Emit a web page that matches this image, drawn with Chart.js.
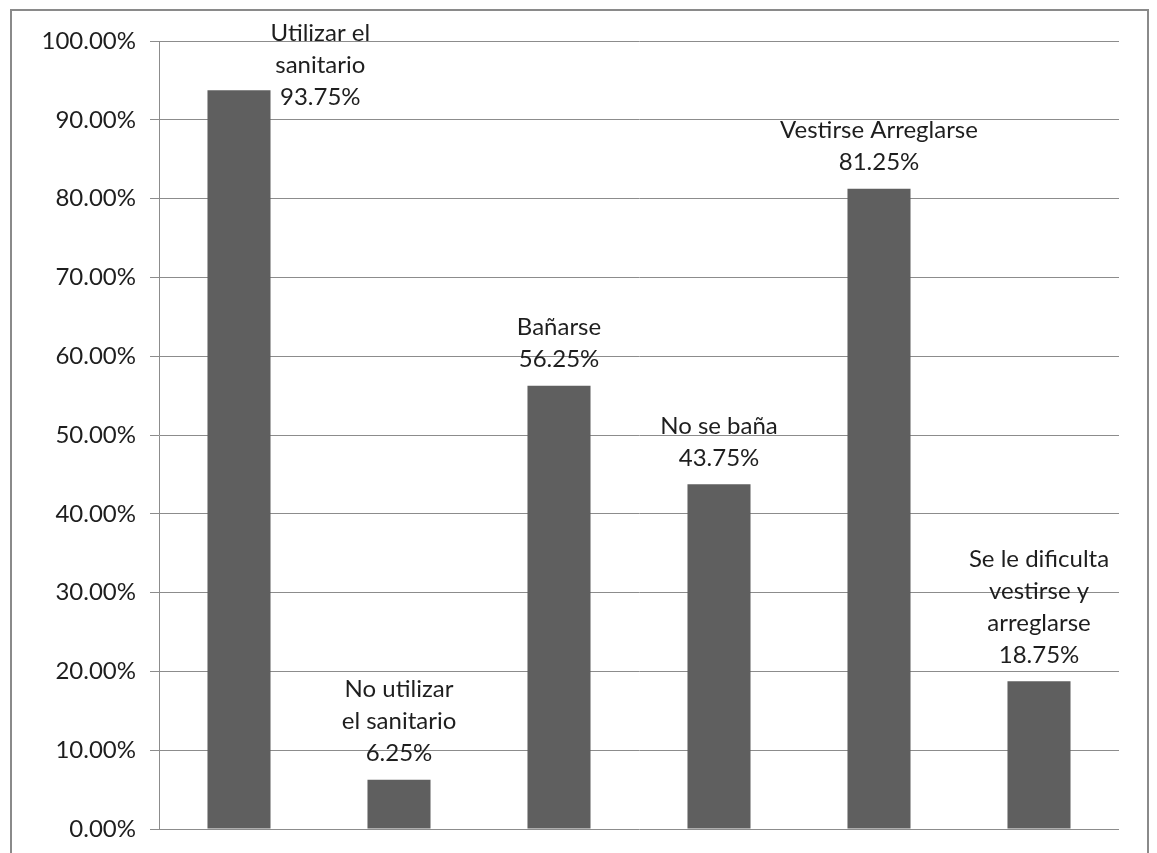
<!DOCTYPE html>
<html>
<head>
<meta charset="utf-8">
<script src="https://cdn.jsdelivr.net/npm/chart.js@4/dist/chart.umd.min.js"></script>
<style>
  html, body { margin: 0; padding: 0; background: #ffffff; }
  #wrap { position: relative; width: 1157px; height: 853px; }
</style>
</head>
<body>
<div id="wrap"><canvas id="chart" width="1157" height="853"></canvas></div>
<script>
// Activity categories (each entry split into the lines shown above its bar)
const categories = [
  ["Utilizar el", "sanitario"],
  ["No utilizar", "el sanitario"],
  ["Bañarse"],
  ["No se baña"],
  ["Vestirse Arreglarse"],
  ["Se le dificulta", "vestirse y", "arreglarse"]
];
// Share of respondents, in percent
const percentages = [93.75, 6.25, 56.25, 43.75, 81.25, 18.75];
// Y axis range and step
const yMin = 0;
const yMax = 100;
const yStep = 10;

const FONT = "Lato, 'Open Sans', sans-serif";
const FONT_SIZE = 24;
const LINE_H = 32;
const TEXT_COLOR = '#1e1e1e';
const GRID_COLOR = '#8c8c8c';

const fmt = v => Number(v).toFixed(2) + '%';

// Frame around the whole chart
const framePlugin = {
  id: 'frame',
  beforeDraw(chart) {
    const ctx = chart.ctx;
    ctx.save();
    ctx.fillStyle = '#ffffff';
    ctx.fillRect(0, 0, chart.width, chart.height);
    ctx.strokeStyle = '#8a8a8a';
    ctx.lineWidth = 2;
    ctx.strokeRect(11, 10, chart.width - 20, chart.height + 40);
    ctx.restore();
  }
};

// Category name + value written above each bar
const barLabelPlugin = {
  id: 'barLabels',
  afterDatasetsDraw(chart) {
    const ctx = chart.ctx;
    const meta = chart.getDatasetMeta(0);
    ctx.save();
    ctx.font = FONT_SIZE + 'px ' + FONT;
    ctx.fillStyle = TEXT_COLOR;
    ctx.textAlign = 'center';
    ctx.textBaseline = 'middle';
    meta.data.forEach((bar, i) => {
      const lines = chart.data.labels[i].concat([fmt(chart.data.datasets[0].data[i])]);
      let lastY = bar.y - 26;
      let firstY = lastY - (lines.length - 1) * LINE_H;
      let cx = bar.x;
      if (firstY - LINE_H / 2 < 16) {
        // not enough room above: set the block beside the bar
        const widest = Math.max(...lines.map(l => ctx.measureText(l).width));
        cx = bar.x + bar.width / 2 + widest / 2;
        firstY = 33;
      }
      lines.forEach((line, k) => {
        ctx.fillText(line, cx, firstY + k * LINE_H);
      });
    });
    ctx.restore();
  }
};

new Chart(document.getElementById('chart'), {
  type: 'bar',
  data: {
    labels: categories,
    datasets: [{
      data: percentages,
      backgroundColor: '#5f5f5f',
      borderWidth: 0,
      categoryPercentage: 1,
      barPercentage: 0.394
    }]
  },
  options: {
    responsive: false,
    animation: false,
    devicePixelRatio: 1,
    layout: { padding: { left: 0, right: 38, top: 41, bottom: 24 } },
    plugins: {
      legend: { display: false },
      tooltip: { enabled: false },
      title: { display: false }
    },
    scales: {
      x: {
        display: false
      },
      y: {
        min: yMin,
        max: yMax,
        afterFit(scale) { scale.width = 159; },
        ticks: {
          stepSize: yStep,
          callback: v => fmt(v),
          color: TEXT_COLOR,
          padding: 14,
          font: { family: FONT, size: FONT_SIZE, lineHeight: 0.6 }
        },
        grid: {
          color: GRID_COLOR,
          lineWidth: 1,
          tickLength: 9,
          drawTicks: true
        },
        border: { display: true, color: GRID_COLOR, width: 1 }
      }
    }
  },
  plugins: [framePlugin, barLabelPlugin]
});
</script>
</body>
</html>
